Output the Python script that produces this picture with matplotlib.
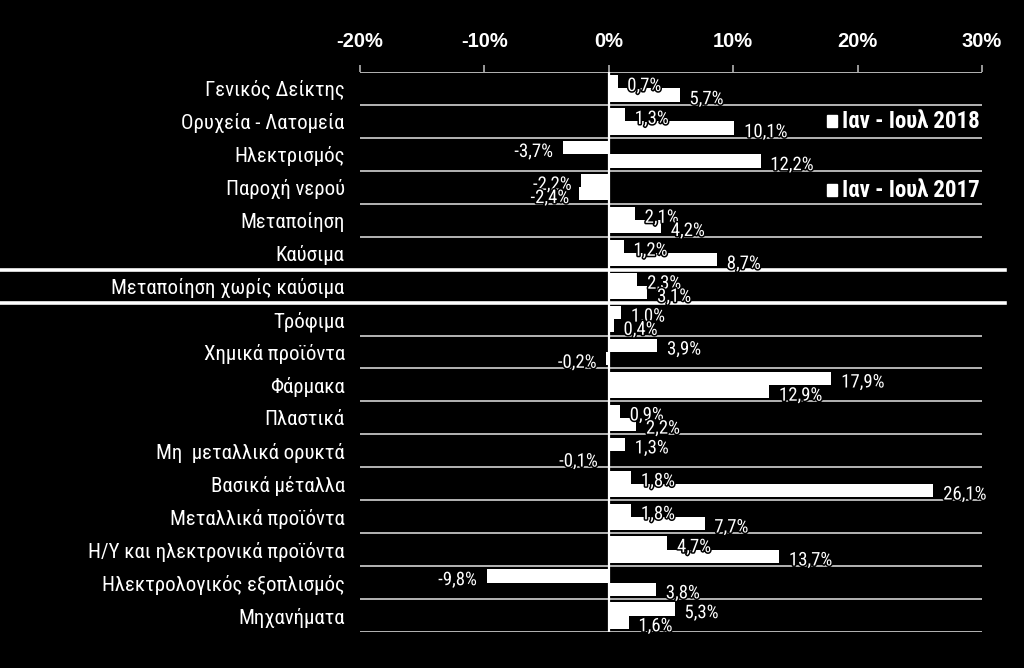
import matplotlib
matplotlib.use("Agg")
import matplotlib.pyplot as plt
import matplotlib.patches as patches
import matplotlib.transforms as mtransforms
import matplotlib.patheffects as pe

categories = [
    "Γενικός Δείκτης", "Ορυχεία - Λατομεία", "Ηλεκτρισμός", "Παροχή νερού",
    "Μεταποίηση", "Καύσιμα", "Μεταποίηση χωρίς καύσιμα", "Τρόφιμα",
    "Χημικά προϊόντα", "Φάρμακα", "Πλαστικά", "Μη  μεταλλικά ορυκτά",
    "Βασικά μέταλλα", "Μεταλλικά προϊόντα", "Η/Υ και ηλεκτρονικά προϊόντα",
    "Ηλεκτρολογικός εξοπλισμός", "Μηχανήματα",
]
vals_2018 = [0.7, 1.3, -3.7, -2.2, 2.1, 1.2, 2.3, 1.0, 3.9, 17.9, 0.9, 1.3, 1.8, 1.8, 4.7, -9.8, 5.3]
vals_2017 = [5.7, 10.1, 12.2, -2.4, 4.2, 8.7, 3.1, 0.4, -0.2, 12.9, 2.2, -0.1, 26.1, 7.7, 13.7, 3.8, 1.6]
series_labels = ["Ιαν - Ιουλ 2018", "Ιαν - Ιουλ 2017"]
xticks = [-20, -10, 0, 10, 20, 30]
highlight_row = 6

NARROW = ["Roboto Condensed", "Sofia Sans Condensed", "DejaVu Sans"]
BOLD = ["Liberation Sans", "DejaVu Sans"]

fig = plt.figure(figsize=(10.24, 6.68), dpi=100, facecolor="black")
ax = fig.add_axes([360 / 1024, 36 / 668, 622 / 1024, 560 / 668])
ax.set_facecolor("black")

n = len(categories)
ys = list(range(n))
h = 0.4
ax.barh([y - h / 2 for y in ys], vals_2018, height=h, color="white", edgecolor="none")
ax.barh([y + h / 2 for y in ys], vals_2017, height=h, color="white", edgecolor="none")

ax.set_xlim(-20, 30)
ax.set_ylim(n - 0.5, -0.5)

# row separators
for b in range(n + 1):
    ax.axhline(b - 0.5, color="#b4b4b4", lw=1.4, zorder=0)
ax.axvline(0, color="white", lw=1.6, zorder=3)

# thick lines around the highlighted row, spanning nearly the full width
tr = mtransforms.blended_transform_factory(fig.transFigure, ax.transData)
for yb in (highlight_row - 0.5, highlight_row + 0.5):
    ax.plot([0, 1005 / 1024], [yb, yb], color="white", lw=2.6, transform=tr, clip_on=False, zorder=4)

for s in ax.spines.values():
    s.set_visible(False)

ax.xaxis.tick_top()
ax.set_xticks(xticks)
ax.set_xticklabels([f"{t}%" for t in xticks], fontfamily=BOLD, fontweight="bold", fontsize=14.5, color="white")
ax.tick_params(axis="x", length=5, width=1.2, color="#b4b4b4", pad=10)
ax.set_yticks(ys)
ax.set_yticklabels(categories, fontfamily=NARROW, fontsize=15, color="white")
ax.tick_params(axis="y", length=0, pad=11)

stroke = [pe.withStroke(linewidth=2.2, foreground="black")]

def label(v, y):
    txt = f"{v:.1f}%".replace(".", ",")
    off = 7 if v >= 0 else -7
    ax.annotate(txt, (v, y), xytext=(off, -3), textcoords="offset points",
                ha="left" if v >= 0 else "right", va="center",
                fontfamily=NARROW, fontsize=13.5, color="white",
                path_effects=stroke, zorder=5)

for y, v in zip(ys, vals_2018):
    label(v, y - h / 2)
for y, v in zip(ys, vals_2017):
    label(v, y + h / 2)

# legend
for ly, lab in zip([121, 190], series_labels):
    fig.patches.append(patches.Rectangle((827 / 1024, 1 - (ly + 6) / 668), 10 / 1024, 12 / 668,
                                         transform=fig.transFigure, color="white"))
    fig.text(842 / 1024, 1 - ly / 668, lab, fontfamily=NARROW, fontsize=16.5, fontweight="bold",
             color="white", va="center", ha="left")

fig.savefig("out.png", dpi=100, facecolor="black")
